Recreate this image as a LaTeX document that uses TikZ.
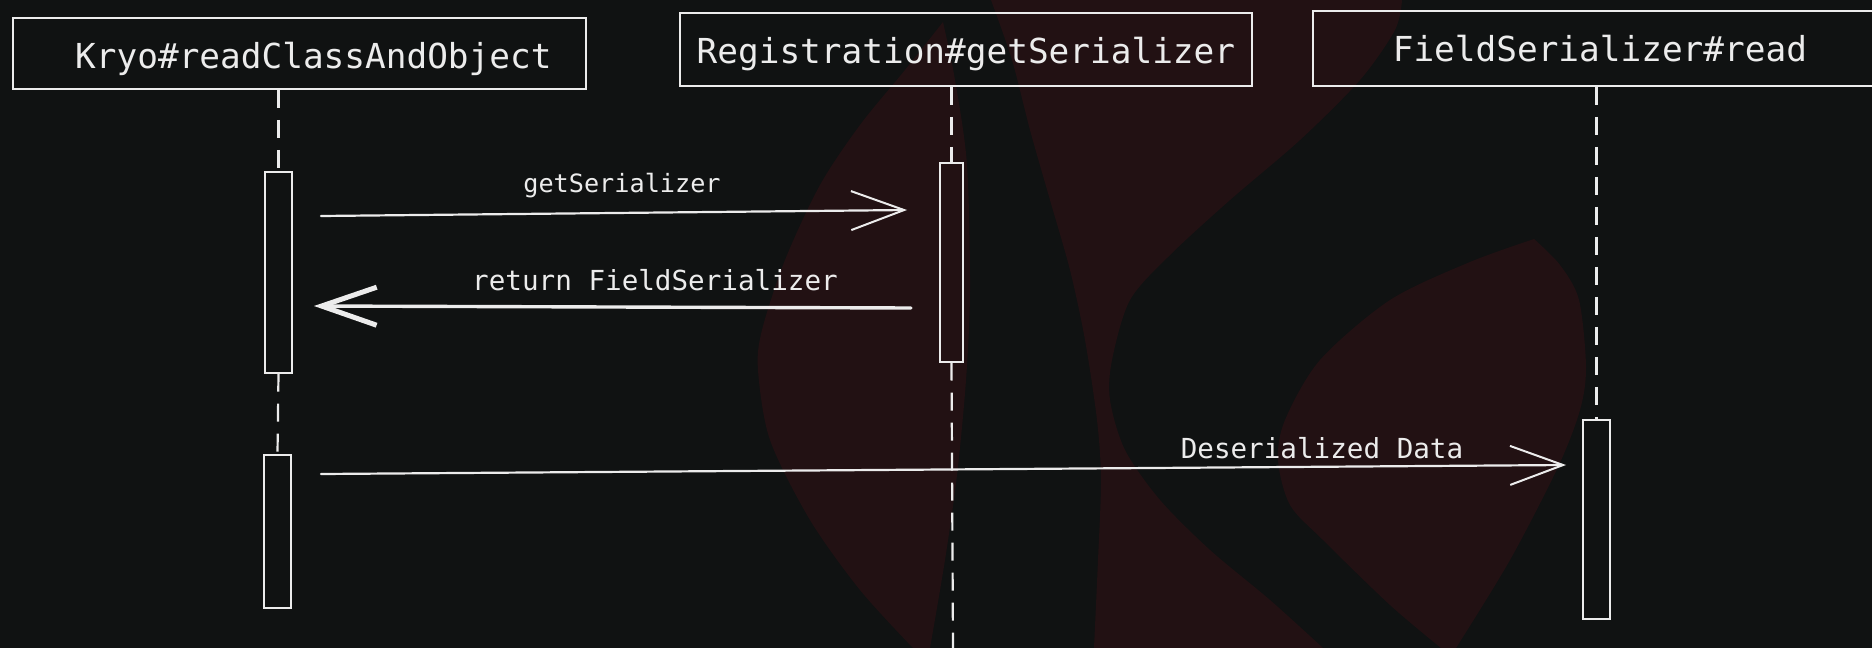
\documentclass[tikz,border=0pt]{standalone}
\usepackage{fontspec}
\newfontfamily\codefont{DejaVu Sans Mono}
\usetikzlibrary{arrows.meta}
\definecolor{bgc}{RGB}{16,18,18}
\definecolor{logo}{RGB}{34,17,19}
\definecolor{ink}{RGB}{236,236,236}
\begin{document}
\begin{tikzpicture}[x=1pt,y=-1pt,
  participant/.style={draw=ink, line width=1.8pt, text=ink, inner sep=0pt,
    font=\codefont\fontsize{34.4}{40}\selectfont, anchor=north west, text depth=0pt},
  actbox/.style={draw=ink, line width=1.7pt, inner sep=0pt, anchor=north},
  lifeline/.style={draw=ink, line width=2.2pt, dash pattern=on 18pt off 12pt},
  msg/.style={draw=ink, line width=2.2pt, line cap=round,
    -{Straight Barb[length=53pt,width=39pt,line width=2pt]}},
  retmsg/.style={draw=ink, line width=3.4pt, line cap=round,
    -{Straight Barb[length=55pt,width=38pt,line width=5pt]}},
  msglabel/.style={text=ink, inner sep=0pt, font=\codefont\fontsize{27.6}{32}\selectfont},
]
\useasboundingbox (0,0) rectangle (1872,648);
\fill[bgc] (0,0) rectangle (1872,648);

% background watermark shapes
\fill[logo] plot[smooth] coordinates {(943,22) (905,70) (860,125) (820,185) (785,260) (762,330) (758,370) (770,440) (810,520) (860,590) (913,648)}
  -- plot[smooth] coordinates {(930,648) (945,560) (957,475) (966,380) (970,290) (967,165) (955,80) (943,22)} -- cycle;
\fill[logo] plot[smooth] coordinates {(991,0) (1012,60) (1030,130) (1050,200) (1070,270) (1085,340) (1097,420) (1101,480) (1098,560) (1094,648)}
  -- plot[smooth] coordinates {(1323,648) (1270,600) (1210,550) (1160,500) (1125,450) (1110,400) (1112,360) (1130,300) (1170,255) (1230,200) (1300,140) (1360,80) (1395,30) (1402,0)} -- cycle;
\fill[logo] plot[smooth] coordinates {(1534,239) (1470,262) (1390,300) (1320,360) (1285,420) (1278,460) (1290,505) (1323,540) (1390,605) (1441,648)}
  -- plot[smooth] coordinates {(1456,648) (1510,560) (1558,467) (1580,410) (1586,367) (1579,300) (1560,265) (1534,239)} -- cycle;

% participants
\node[participant, text height=30pt, minimum width=573pt, minimum height=71pt] (p1) at (12,17) {\hspace*{28pt}Kryo\#readClassAndObject};
\node[participant, text height=28pt, minimum width=572pt, minimum height=73pt] (p2) at (679,12) {Registration\#getSerializer};
\node[participant, text height=26pt, minimum width=574pt, minimum height=75pt] (p3) at (1312,10) {FieldSerializer\#read};

% activations
\node[actbox, minimum width=27pt, minimum height=201pt] (a1) at (278.5,171) {};
\node[actbox, minimum width=27pt, minimum height=153pt] (a1b) at (277.5,454) {};
\node[actbox, minimum width=23pt, minimum height=199pt] (a2) at (951.5,162) {};
\node[actbox, minimum width=27pt, minimum height=199pt] (a3) at (1596.5,419) {};
\coordinate (end2) at (953,648);

% lifelines
\draw[lifeline] (a1.north |- p1.south) -- (a1.north);
\draw[lifeline] (a1.south) -- (a1b.north);
\draw[lifeline] (a2.north |- p2.south) -- (a2.north);
\draw[lifeline] (a2.south) -- (end2);
\draw[lifeline] (a3.north |- p3.south) -- (a3.north);

% messages
\coordinate (m1a) at (321,216);
\coordinate (m1b) at (907,210);
\coordinate (m2a) at (911,308);
\coordinate (m2b) at (314,306);
\coordinate (m3a) at (321,474);
\coordinate (m3b) at (1566,465);
\draw[msg] (m1a) -- (m1b);
\draw[retmsg] (m2a) -- (m2b);
\draw[msg] (m3a) -- (m3b);

\node[msglabel, font=\codefont\fontsize{25.2}{30}\selectfont] (l1) at (622,185.5) {getSerializer};
\node[msglabel] (l2) at (655,280) {return FieldSerializer};
\node[msglabel] (l3) at (1322,448) {Deserialized Data};
\end{tikzpicture}
\end{document}
